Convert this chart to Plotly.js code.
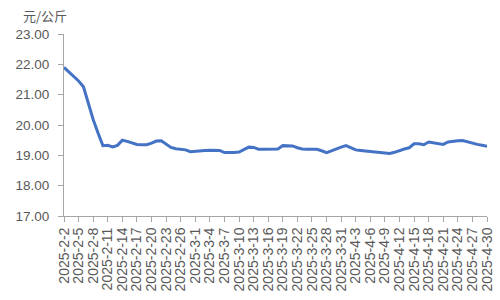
<!DOCTYPE html>
<html>
<head>
<meta charset="utf-8">
<script src="https://cdn.plot.ly/plotly-3.0.1.min.js"></script>
<style>
html,body{margin:0;padding:0;background:#fff;}
#chart{width:500px;height:300px;}
</style>
</head>
<body>
<div id="chart"></div>
<script>
const dates = [
  "2025-2-2","2025-2-3","2025-2-4","2025-2-5","2025-2-6","2025-2-7","2025-2-8","2025-2-9","2025-2-10",
  "2025-2-11","2025-2-12","2025-2-13","2025-2-14","2025-2-15","2025-2-16","2025-2-17","2025-2-18","2025-2-19",
  "2025-2-20","2025-2-21","2025-2-22","2025-2-23","2025-2-24","2025-2-25","2025-2-26","2025-2-27","2025-2-28",
  "2025-3-1","2025-3-2","2025-3-3","2025-3-4","2025-3-5","2025-3-6","2025-3-7","2025-3-8","2025-3-9","2025-3-10",
  "2025-3-11","2025-3-12","2025-3-13","2025-3-14","2025-3-15","2025-3-16","2025-3-17","2025-3-18","2025-3-19","2025-3-20",
  "2025-3-21","2025-3-22","2025-3-23","2025-3-24","2025-3-25","2025-3-26","2025-3-27","2025-3-28","2025-3-29","2025-3-30","2025-3-31",
  "2025-4-1","2025-4-2","2025-4-3","2025-4-4","2025-4-5","2025-4-6","2025-4-7","2025-4-8","2025-4-9","2025-4-10",
  "2025-4-11","2025-4-12","2025-4-13","2025-4-14","2025-4-15","2025-4-16","2025-4-17","2025-4-18","2025-4-19","2025-4-20",
  "2025-4-21","2025-4-22","2025-4-23","2025-4-24","2025-4-25","2025-4-26","2025-4-27","2025-4-28","2025-4-29","2025-4-30"
];
const prices = [
  21.90,21.75,21.61,21.45,21.26,20.68,20.18,19.74,19.32,19.33,
  19.28,19.33,19.50,19.46,19.41,19.36,19.35,19.35,19.40,19.47,
  19.48,19.38,19.26,19.22,19.21,19.18,19.12,19.14,19.16,19.16,
  19.17,19.16,19.16,19.09,19.08,19.09,19.11,19.20,19.27,19.26,
  19.20,19.20,19.21,19.21,19.21,19.32,19.31,19.31,19.25,19.21,
  19.20,19.20,19.20,19.15,19.09,19.15,19.22,19.27,19.32,19.25,
  19.18,19.16,19.14,19.12,19.11,19.10,19.08,19.06,19.10,19.16,
  19.21,19.25,19.38,19.38,19.35,19.44,19.41,19.37,19.36,19.44,
  19.47,19.48,19.49,19.44,19.40,19.36,19.33,19.30
];
const tickLabels = [
  "2025-2-2","2025-2-5","2025-2-8","2025-2-11","2025-2-14","2025-2-17","2025-2-20","2025-2-23","2025-2-26",
  "2025-3-1","2025-3-4","2025-3-7","2025-3-10","2025-3-13","2025-3-16","2025-3-19","2025-3-22","2025-3-25","2025-3-28","2025-3-31",
  "2025-4-3","2025-4-6","2025-4-9","2025-4-12","2025-4-15","2025-4-18","2025-4-21","2025-4-24","2025-4-27","2025-4-30"
];
const yTicks = [17,18,19,20,21,22,23];
const unitLabel = "元/公斤";

const fontFam = "Liberation Sans, Arial, Noto Sans CJK SC, sans-serif";

Plotly.newPlot('chart', [{
  type: 'scatter',
  mode: 'lines',
  x: dates,
  y: prices,
  line: {color: '#4472C4', width: 3},
  hoverinfo: 'skip'
}], {
  width: 500, height: 300,
  margin: {l: 64, r: 13, t: 34, b: 84},
  paper_bgcolor: '#ffffff',
  plot_bgcolor: '#ffffff',
  showlegend: false,
  xaxis: {
    type: 'category',
    range: [0, dates.length - 1],
    tickmode: 'array',
    tickvals: tickLabels,
    ticktext: tickLabels,
    tickangle: -90,
    ticks: 'outside', ticklen: 5, tickcolor: '#a6a6a6', tickwidth: 1,
    showline: true, linecolor: '#a6a6a6', linewidth: 1,
    showgrid: false, zeroline: false,
    tickfont: {family: fontFam, size: 14, color: '#595959'},
    fixedrange: true
  },
  yaxis: {
    range: [17, 23],
    tickmode: 'array',
    tickvals: yTicks,
    tickformat: '.2f',
    ticks: 'outside', ticklen: 5, tickcolor: '#a6a6a6', tickwidth: 1,
    showline: true, linecolor: '#a6a6a6', linewidth: 1,
    showgrid: false, zeroline: false,
    tickfont: {family: fontFam, size: 13.5, color: '#595959'},
    ticklabelstandoff: 6,
    fixedrange: true
  },
  annotations: [{
    text: unitLabel,
    xref: 'paper', yref: 'paper',
    x: -0.102, y: 1.1,
    xanchor: 'left', yanchor: 'middle',
    showarrow: false,
    font: {family: "Noto Sans CJK SC, sans-serif", size: 13, color: '#595959'}
  }]
}, {displayModeBar: false, staticPlot: true});
</script>
</body>
</html>
